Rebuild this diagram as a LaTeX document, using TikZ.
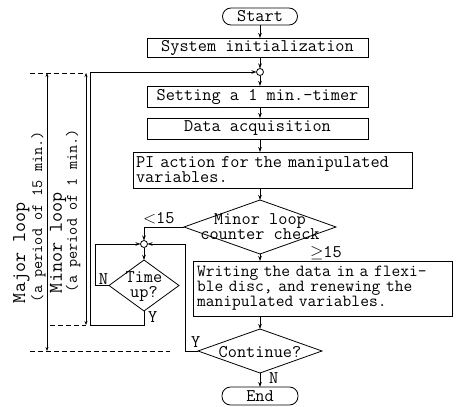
\documentclass[tikz,border=0pt]{standalone}
\usepackage{fontspec}
\usetikzlibrary{arrows.meta,shapes.geometric}
\newcommand\flowfont{\fontsize{17.8}{15}\selectfont\ttfamily}
\newcommand\notefont{\fontsize{17}{15}\selectfont\ttfamily}
\newcommand\loopfont{\fontsize{19.5}{20}\selectfont\ttfamily}
\newcommand\periodfont{\fontsize{15.8}{16}\selectfont\ttfamily}
\begin{document}
\begin{tikzpicture}[x=1pt,y=-1pt,
  every node/.style={inner sep=0pt, outer sep=0pt},
  flow/.style={line width=0.8pt},
  arr/.style={flow, -{Stealth[length=5pt,width=3.5pt]}},
  dim/.style={line width=0.7pt, {Stealth[length=4pt,width=3pt]}-{Stealth[length=4pt,width=3pt]}},
  guide/.style={line width=0.7pt, dash pattern=on 5pt off 3pt},
  procbox/.style={draw, line width=0.8pt, font=\flowfont},
  term/.style={draw, line width=0.8pt, rounded corners=8.5pt, font=\flowfont},
  decide/.style={draw, line width=0.8pt, diamond},
  joint/.style={draw, line width=0.8pt, fill=white, circle, minimum size=7pt},
  txt/.style={font=\flowfont},
  looptag/.style={font=\loopfont, rotate=90, anchor=base west},
  periodtag/.style={font=\periodfont, rotate=90, anchor=base west},
]
\useasboundingbox (0,0) rectangle (459,407);

% main column
\node[term, minimum width=75pt, minimum height=17pt] (start) at (260,16.5) {Start};
\node[procbox, minimum width=221pt, minimum height=19pt] (init) at (257.5,47.5) {System initialization};
\node[joint] (j1) at (260,72) {};
\node[procbox, minimum width=221pt, minimum height=21pt] (timer) at (257.5,96.5) {Setting a 1 min.\textendash timer};
\node[procbox, minimum width=221pt, minimum height=21pt] (acq) at (257.5,128.5) {Data acquisition};
\node[procbox, text width=273pt, inner xsep=3pt, minimum height=36pt, align=left] (pi) at (272.5,170) {PI action for the manipulated\\variables.};

\node[decide, minimum width=152pt, minimum height=54pt] (chk) at (260,227) {};
\node[txt, align=center] (chktext) at (260,227) {Minor loop\\counter check};

\node[procbox, font=\notefont, text width=251pt, inner xsep=4pt, minimum height=55pt, align=left] (wr) at (322.5,288.5) {Writing the data in a flexi-\\ble disc, and renewing the\\manipulated variables.};

\node[decide, minimum width=124pt, minimum height=44pt] (cont) at (260,351) {};
\node[txt] (conttext) at (260,352) {Continue?};
\node[term, minimum width=76pt, minimum height=18pt] (end) at (260,396) {End};

% waiting loop
\node[joint] (j2) at (144,244) {};
\node[decide, minimum width=70pt, minimum height=51pt] (tup) at (144,285.5) {};
\node[txt, align=center] (tuptext) at (144,287) {Time\\up?};

\coordinate (ycorner) at (185,351);
\coordinate (ncorner) at (95,285.5);
\coordinate (lcorner) at (90,325);

% flow connectors
\draw[arr] (start.south) -- (start.south |- init.north);
\draw[arr] (j1 |- init.south) -- (j1);
\draw[arr] (j1) -- (j1 |- timer.north);
\draw[arr] (j1 |- timer.south) -- (j1 |- acq.north);
\draw[arr] (j1 |- acq.south) -- (j1 |- pi.north);
\draw[arr] (chk |- pi.south) -- (chk.north);
\draw[arr] (chk.south) -- (chk.south |- wr.north);
\draw[arr] (cont |- wr.south) -- (cont.north);
\draw[arr] (cont.south) -- (end);
\draw[arr] (chk.west) -| (j2);
\draw[arr] (cont.west) -- (ycorner) |- (j2);
\draw[arr] (j2) -- (tup.north);
\draw[arr] (tup.west) -- (ncorner) |- (j2);
\draw[arr] (tup.south) -- (tup.south |- lcorner) -- (lcorner) -- (lcorner |- j1) -- (j1);

% branch labels
\node[txt, anchor=base west] (lt15) at (143,223) {$<$15};
\node[txt, anchor=base west] (ge15) at (310,257) {$\geq$15};
\node[txt, anchor=base west] (contY) at (191,347) {Y};
\node[txt, anchor=base west] (contN) at (269,383) {N};
\node[txt, anchor=base west] (tupY) at (148,322) {Y};
\node[txt, anchor=base west] (tupN) at (99,284) {N};

% loop period brackets
\draw[guide] (30,73) -- (86,73);
\draw[guide] (30,351) -- (170,351);
\draw[guide] (50,325) -- (86,325);
\draw[dim] (47,73) -- (47,351);
\draw[dim] (86,73) -- (86,325);
\node[looptag] (majA) at (25,303) {Major loop};
\node[periodtag] (majB) at (42,302) {(a period of 15 min.)};
\node[looptag] (minA) at (62,293) {Minor loop};
\node[periodtag] (minB) at (77,292) {(a period of 1 min.)};
\end{tikzpicture}
\end{document}
